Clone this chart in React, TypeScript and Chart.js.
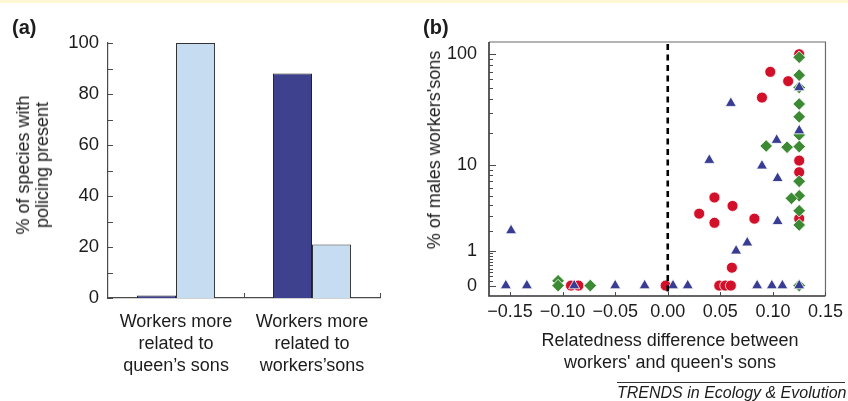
import React, { useEffect, useRef } from 'react';
import { Chart, registerables } from 'chart.js';

Chart.register(...registerables);

// ---------- Panel (a) data ----------
const barCategories = [
  ['Workers more', 'related to', 'queen\u2019s sons'],
  ['Workers more', 'related to', 'workers\u2019sons'],
];
const policingDark = [1, 88];
const policingLight = [100, 21];
const barLabelStep = 20;

// ---------- Panel (b) data (x = relatedness difference, y = % of males workers' sons) ----------
const triangleX = [-0.154, -0.149, -0.134, -0.089, -0.050, -0.022, 0.005, 0.019, 0.085, 0.099, 0.109, 0.125,
  0.060, 0.0395, 0.065, 0.0756, 0.0896, 0.1036, 0.1045, 0.1045, 0.125, 0.125];
const triangleY = [0, 2, 0, 0, 0, 0, 0, 0, 0, 0, 0, 0,
  37, 11.2, 1.0, 1.35, 9.9, 17.2, 7.5, 2.6, 21, 51];

const circleX = [0.125, 0.0975, 0.1145, 0.0896, 0.125, 0.125, 0.125, 0.0444, 0.0616, 0.0299, 0.0444, 0.0824,
  0.061, -0.002, 0.049, 0.0547, 0.060, -0.092, -0.085];
const circleY = [100, 70, 58, 41.5, 11.1, 8.6, 2.8, 4.8, 3.9, 3.2, 2.5, 2.8,
  0.43, 0, 0, 0, 0, 0, 0];

const diamondX = [0.125, 0.125, 0.125, 0.125, 0.125, 0.125, 0.1135, 0.0936, 0.125, 0.125, 0.1176, 0.125, 0.125,
  -0.0737, -0.1043, -0.1043, 0.125, 0.125];
const diamondY = [94, 65.5, 36.4, 28, 19.2, 15, 14.8, 15.2, 7.0, 5.0, 4.7, 3.45, 2.35,
  0, 0.1, 0, 0, 51];

const yMajorValues = [0, 1, 10, 100];
const yMajorLabels = ['0', '1', '10', '100'];
const yMinorValues = [0.1, 0.2, 0.3, 0.4, 0.5, 0.6, 0.7, 0.8, 0.9, 2, 3, 4, 5, 6, 7, 8, 9, 20, 30, 40, 50, 60, 70, 80, 90];
const xTickValues = [-0.15, -0.1, -0.05, 0, 0.05, 0.1, 0.15];

const FONT = '"Liberation Sans", Arial, Helvetica, sans-serif';
const TEXT = '#1c1c1c';
const AXIS = '#4a4a4a';
const tf = (v: number) => Math.log10(v + 1);

const barTicksPlugin = {
  id: 'barTicks',
  afterDraw(chart: any) {
    const { ctx, chartArea, scales } = chart;
    const y = scales.y;
    const x = scales.x;
    ctx.save();
    ctx.strokeStyle = AXIS;
    ctx.lineWidth = 1;
    y.ticks.forEach((t: any) => {
      const py = Math.round(y.getPixelForValue(t.value)) + 0.5;
      ctx.beginPath();
      ctx.moveTo(chartArea.left, py);
      ctx.lineTo(chartArea.left + 5, py);
      ctx.stroke();
    });
    for (let i = 0; i < x.ticks.length; i++) {
      const px = Math.round(x.getPixelForValue(i + 0.5)) + 0.5;
      ctx.beginPath();
      ctx.moveTo(px, chartArea.bottom);
      ctx.lineTo(px, chartArea.bottom - 5);
      ctx.stroke();
    }
    ctx.restore();
  },
};

const scatterDecorPlugin = {
  id: 'scatterDecor',
  afterDatasetsDraw(chart: any) {
    const { ctx, chartArea, scales } = chart;
    const x0 = scales.x.getPixelForValue(0);
    ctx.save();
    ctx.strokeStyle = '#000';
    ctx.lineWidth = 2.6;
    ctx.setLineDash([6, 4.5]);
    ctx.beginPath();
    ctx.moveTo(x0, chartArea.top + 2);
    ctx.lineTo(x0, chartArea.bottom);
    ctx.stroke();
    ctx.restore();
  },
  afterDraw(chart: any) {
    const { ctx, chartArea, scales } = chart;
    const { left, right, top, bottom } = chartArea;
    ctx.save();
    ctx.strokeStyle = '#6a6a6a';
    ctx.lineWidth = 1.2;
    ctx.beginPath();
    ctx.moveTo(left, top);
    ctx.lineTo(right, top);
    ctx.lineTo(right, bottom);
    ctx.stroke();
    ctx.strokeStyle = '#333';
    ctx.lineWidth = 1.6;
    ctx.beginPath();
    ctx.moveTo(left, top);
    ctx.lineTo(left, bottom);
    ctx.lineTo(right, bottom);
    ctx.stroke();
    ctx.lineWidth = 1;
    ctx.strokeStyle = AXIS;
    yMajorValues.forEach((v) => {
      const py = Math.round(scales.y.getPixelForValue(tf(v))) + 0.5;
      ctx.beginPath();
      ctx.moveTo(left, py);
      ctx.lineTo(left + 7, py);
      ctx.stroke();
    });
    yMinorValues.forEach((v) => {
      const py = Math.round(scales.y.getPixelForValue(tf(v))) + 0.5;
      ctx.beginPath();
      ctx.moveTo(left, py);
      ctx.lineTo(left + 4, py);
      ctx.stroke();
    });
    xTickValues.forEach((v) => {
      const px = Math.round(scales.x.getPixelForValue(v)) + 0.5;
      ctx.beginPath();
      ctx.moveTo(px, bottom);
      ctx.lineTo(px, bottom - 4);
      ctx.stroke();
    });
    ctx.restore();
  },
};

export default function App() {
  const refA = useRef<HTMLCanvasElement>(null);
  const refB = useRef<HTMLCanvasElement>(null);

  useEffect(() => {
    const chartA = new Chart(refA.current as HTMLCanvasElement, {
      type: 'bar',
      data: {
        labels: barCategories as any,
        datasets: [
          {
            data: policingDark,
            backgroundColor: '#3e418e',
            borderColor: '#222',
            borderWidth: 1,
            barPercentage: 1,
            categoryPercentage: 0.574,
          },
          {
            data: policingLight,
            backgroundColor: '#c6dcf0',
            borderColor: '#333',
            borderWidth: 1,
            barPercentage: 1,
            categoryPercentage: 0.574,
          },
        ],
      },
      options: {
        responsive: false,
        animation: false,
        layout: { padding: { left: 0, top: 43, right: 40, bottom: 0 } },
        plugins: { legend: { display: false }, tooltip: { enabled: false } },
        scales: {
          x: {
            grid: { display: false, drawTicks: false },
            border: { display: true, color: AXIS, width: 1.2 },
            ticks: {
              color: TEXT,
              padding: 13,
              autoSkip: false,
              maxRotation: 0,
              font: { family: FONT, size: 18, lineHeight: 1.22 },
            },
            afterFit: (s: any) => { s.height = 103; },
          },
          y: {
            min: 0,
            max: 100,
            grid: { display: false, drawTicks: false },
            border: { display: true, color: AXIS, width: 1.2 },
            ticks: {
              stepSize: 10,
              autoSkip: false,
              color: TEXT,
              padding: 9,
              font: { family: FONT, size: 18.5 },
              callback: (v: any) => (Number(v) % barLabelStep === 0 ? String(v) : ''),
            },
            afterFit: (s: any) => { s.width = 108; },
          },
        },
      },
      plugins: [barTicksPlugin],
    });

    const mk = (xs: number[], ys: number[]) => xs.map((x, i) => ({ x, y: tf(ys[i]) }));

    const chartB = new Chart(refB.current as HTMLCanvasElement, {
      type: 'scatter',
      data: {
        datasets: [
          {
            data: mk(triangleX, triangleY),
            pointStyle: 'triangle',
            pointRadius: 6.4,
            backgroundColor: '#383d93',
            borderColor: '#ffffff',
            borderWidth: 0.8,
          },
          {
            data: mk(diamondX, diamondY),
            pointStyle: 'rectRot',
            pointRadius: 6.3,
            backgroundColor: '#3c8a33',
            borderColor: '#ffffff',
            borderWidth: 0.8,
          },
          {
            data: mk(circleX, circleY),
            pointStyle: 'circle',
            pointRadius: 5.5,
            backgroundColor: '#d2102a',
            borderColor: '#ffffff',
            borderWidth: 0.8,
          },
        ],
      },
      options: {
        responsive: false,
        animation: false,
        layout: { padding: { left: 0, top: 42, right: 17, bottom: 0 } },
        plugins: { legend: { display: false }, tooltip: { enabled: false } },
        scales: {
          x: {
            type: 'linear',
            min: -0.17,
            max: 0.15,
            grid: { display: false, drawTicks: false },
            border: { display: false },
            afterBuildTicks: (s: any) => { s.ticks = xTickValues.map((v) => ({ value: v })); },
            ticks: {
              autoSkip: false,
              maxRotation: 0,
              color: TEXT,
              padding: 5,
              font: { family: FONT, size: 18 },
              callback: (v: any) => {
                const n = Number(v);
                if (Math.abs(n) < 1e-9) return '0.00';
                return (n < 0 ? '\u2212' : '') + Math.abs(n).toFixed(2);
              },
            },
            afterFit: (s: any) => { s.height = 105; },
          },
          y: {
            type: 'linear',
            min: -0.09,
            max: 2.11,
            grid: { display: false, drawTicks: false },
            border: { display: false },
            afterBuildTicks: (s: any) => { s.ticks = yMajorValues.map((v) => ({ value: tf(v) })); },
            ticks: {
              autoSkip: false,
              color: TEXT,
              padding: 12,
              font: { family: FONT, size: 18 },
              callback: (_v: any, i: number) => yMajorLabels[i],
            },
            afterFit: (s: any) => { s.width = 69; },
          },
        },
      },
      plugins: [scatterDecorPlugin],
    });

    return () => {
      chartA.destroy();
      chartB.destroy();
    };
  }, []);

  const txt: React.CSSProperties = { position: 'absolute', fontFamily: FONT, color: TEXT, whiteSpace: 'nowrap' };

  return (
    <div style={{ position: 'absolute', left: 0, top: 0, width: 848, height: 401, background: '#fff', overflow: 'hidden' }}>
      <div style={{ position: 'absolute', left: 0, top: 0, width: 848, height: 3, background: '#fdf7d4' }} />
      <div style={{ position: 'absolute', left: 0, top: 0, width: 420, height: 401 }}>
        <canvas ref={refA} width={420} height={401} style={{ width: 420, height: 401, display: 'block' }} />
      </div>
      <div style={{ position: 'absolute', left: 420, top: 0, width: 428, height: 401 }}>
        <canvas ref={refB} width={428} height={401} style={{ width: 428, height: 401, display: 'block' }} />
      </div>
      <div style={{ ...txt, left: 12, top: 16, fontSize: 20, fontWeight: 'bold', lineHeight: '22px' }}>(a)</div>
      <div style={{ ...txt, left: 423, top: 16, fontSize: 20, fontWeight: 'bold', lineHeight: '22px' }}>(b)</div>
      <div
        style={{
          ...txt,
          left: 32.5,
          top: 165,
          fontSize: 18,
          lineHeight: '19px',
          textAlign: 'center',
          transform: 'translate(-50%, -50%) rotate(-90deg)',
        }}
      >
        % of species with
        <br />
        policing present
      </div>
      <div
        style={{
          ...txt,
          left: 434,
          top: 150,
          fontSize: 18,
          lineHeight: '20px',
          textAlign: 'center',
          transform: 'translate(-50%, -50%) rotate(-90deg)',
        }}
      >
        % of males workers'sons
      </div>
      <div
        style={{
          ...txt,
          left: 670,
          top: 351,
          fontSize: 18,
          lineHeight: '22px',
          textAlign: 'center',
          transform: 'translate(-50%, -50%)',
        }}
      >
        Relatedness difference between
        <br />
        workers' and queen's sons
      </div>
      <div style={{ position: 'absolute', left: 617, top: 382, width: 228, height: 1, background: '#333' }} />
      <div style={{ ...txt, left: 617, top: 384, fontSize: 16, fontStyle: 'italic', lineHeight: '17px' }}>
        TRENDS in Ecology &amp; Evolution
      </div>
    </div>
  );
}
